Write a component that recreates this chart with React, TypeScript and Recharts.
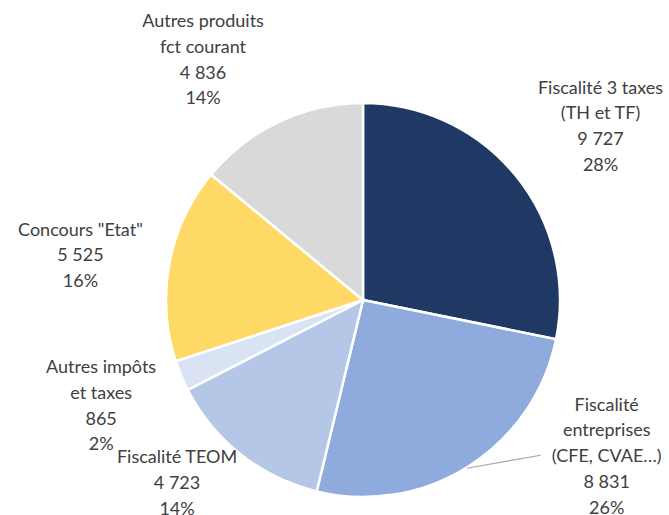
import React from "react";
import { PieChart, Pie, Cell } from "recharts";

const categories = [
  "Fiscalité 3 taxes\n(TH et TF)",
  "Fiscalité\nentreprises\n(CFE, CVAE…)",
  "Fiscalité TEOM",
  "Autres impôts\net taxes",
  'Concours "Etat"',
  "Autres produits\nfct courant",
];
const values = [9727, 8831, 4723, 865, 5525, 4836];
const percentLabels = ["28%", "26%", "14%", "2%", "16%", "14%"];
const colors = ["#203864", "#8FAADC", "#B4C7E7", "#DAE3F3", "#FFD966", "#D9D9D9"];

// label block offsets from the slice's outer edge point (dx, dy)
const labelOffsets = [
  [85, -50],
  [138, -11],
  [-64, 27],
  [-80, 29],
  [-89, -9],
  [-76, -63],
];

const data = categories.map((name, i) => ({ name, value: values[i], pct: percentLabels[i] }));

const fmt = (n: number) => String(n).replace(/\B(?=(\d{3})+(?!\d))/g, " ");

const RAD = Math.PI / 180;
const LINE_H = 25.8;

const renderLabel = (props: any) => {
  const { cx, cy, midAngle, outerRadius, index } = props;
  const ex = cx + outerRadius * Math.cos(-midAngle * RAD);
  const ey = cy + outerRadius * Math.sin(-midAngle * RAD);
  const [dx, dy] = labelOffsets[index];
  const bx = ex + dx;
  const by = ey + dy;
  const d = data[index];
  const lines = [...d.name.split("\n"), fmt(d.value), d.pct];
  const y0 = by - ((lines.length - 1) * LINE_H) / 2;
  return (
    <g key={`lbl-${index}`}>
      {index === 1 && (
        <polyline
          points={`${ex - 2},${ey + 2} ${bx - 66},${y0 + 2 * LINE_H}`}
          fill="none"
          stroke="#A6A6A6"
          strokeWidth={1.2}
        />
      )}
      {lines.map((t, j) => (
        <text
          key={j}
          x={bx}
          y={y0 + j * LINE_H}
          textAnchor="middle"
          dominantBaseline="central"
          fill="#404040"
          fontSize={18}
          fontFamily="Lato, 'Open Sans', sans-serif"
        >
          {t}
        </text>
      ))}
    </g>
  );
};

export default function App() {
  return (
    <div style={{ position: "absolute", left: 0, top: 0, background: "#fff" }}>
      <PieChart width={669} height={515} margin={{ top: 0, right: 0, bottom: 0, left: 0 }}>
        <Pie
          data={data}
          dataKey="value"
          nameKey="name"
          cx={363}
          cy={300}
          outerRadius={197}
          startAngle={90}
          endAngle={-270}
          stroke="#ffffff"
          strokeWidth={2.5}
          label={renderLabel}
          labelLine={false}
          isAnimationActive={false}
        >
          {data.map((d, i) => (
            <Cell key={d.name} fill={colors[i]} />
          ))}
        </Pie>
      </PieChart>
    </div>
  );
}
